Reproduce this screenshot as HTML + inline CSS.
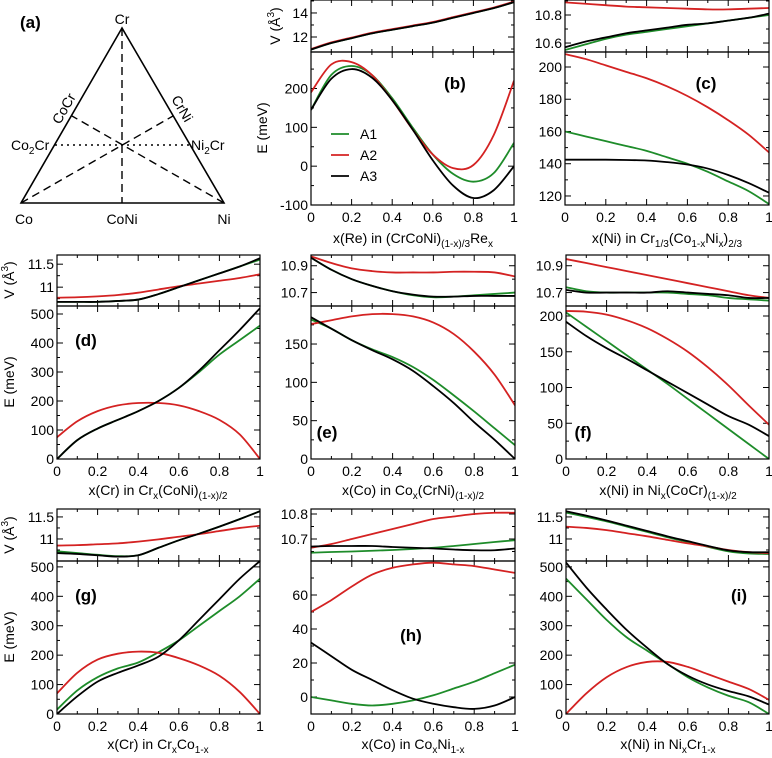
<!DOCTYPE html>
<html><head><meta charset="utf-8"><style>
html,body{margin:0;padding:0;background:#fff;}
svg{display:block;font-family:"Liberation Sans",Arial,sans-serif;}
</style></head><body>
<svg id="fig" width="772" height="758" viewBox="0 0 772 758">
<g fill="none" stroke="#000">
<polygon points="122,28 21,203 224,203" stroke-width="1.6"/>
<line x1="122" y1="28" x2="122" y2="203" stroke-dasharray="8,5" stroke-width="1.4"/>
<line x1="21" y1="203" x2="173" y2="116" stroke-dasharray="8,5" stroke-width="1.4"/>
<line x1="224" y1="203" x2="72" y2="116" stroke-dasharray="8,5" stroke-width="1.4"/>
<line x1="55" y1="145" x2="190" y2="145" stroke-dasharray="2,4" stroke-width="1.4"/>
</g>
<g font-size="14" fill="#000">
<text x="20" y="28" font-weight="bold" font-size="17">(a)</text>
<text x="122" y="24" text-anchor="middle">Cr</text>
<text x="24" y="224" text-anchor="middle">Co</text>
<text x="122" y="224" text-anchor="middle">CoNi</text>
<text x="224" y="224" text-anchor="middle">Ni</text>
<text x="11" y="150">Co<tspan font-size="10" dy="4">2</tspan><tspan dy="-4">Cr</tspan></text>
<text x="191" y="150">Ni<tspan font-size="10" dy="4">2</tspan><tspan dy="-4">Cr</tspan></text>
<text transform="translate(68,111) rotate(-60)" text-anchor="middle">CoCr</text>
<text transform="translate(178,111) rotate(60)" text-anchor="middle">CrNi</text>
</g>
</svg>
<script>
const xs=[0,0.1,0.2,0.3,0.4,0.5,0.6,0.7,0.8,0.9,1];
const seriesNames=["A1","A2","A3"];
// (b)
const bV1=[10.95,11.5,11.9,12.3,12.6,12.9,13.2,13.6,14.0,14.4,14.9];
const bV2=[11.0,11.55,11.95,12.35,12.65,12.95,13.25,13.65,14.05,14.45,14.95];
const bV3=[10.95,11.5,11.9,12.3,12.6,12.9,13.2,13.6,14.0,14.4,14.9];
const bE1=[145,235,258,235,175,100,30,-20,-40,-18,60];
const bE2=[190,262,268,235,170,95,30,-5,3,80,220];
const bE3=[145,225,250,228,170,95,15,-50,-82,-62,0];
// (c)
const cV1=[10.55,10.59,10.63,10.66,10.68,10.70,10.72,10.74,10.76,10.78,10.80];
const cV2=[10.89,10.88,10.87,10.86,10.855,10.85,10.845,10.84,10.84,10.845,10.85];
const cV3=[10.57,10.61,10.64,10.67,10.69,10.71,10.73,10.74,10.76,10.78,10.81];
const cE1=[160,157,154,151,148,144,140,135,129,123,115];
const cE2=[208,205,201,197,193,188,182,175,167,158,147];
const cE3=[142.5,142.5,142.5,142.3,142,141,139.5,137,133,128,122];
// (d)
const dV1=[10.68,10.68,10.68,10.70,10.73,10.85,11.0,11.15,11.30,11.45,11.60];
const dV2=[10.77,10.78,10.80,10.83,10.88,10.95,11.02,11.08,11.14,11.20,11.28];
const dV3=[10.68,10.68,10.68,10.70,10.73,10.85,11.0,11.15,11.30,11.45,11.63];
const dE1=[0,65,105,135,165,200,245,300,360,410,460];
const dE2=[75,130,165,185,193,193,185,165,135,85,0];
const dE3=[0,65,105,135,165,200,245,305,375,445,520];
// (e)
const eV1=[10.96,10.87,10.80,10.75,10.71,10.68,10.665,10.67,10.68,10.69,10.70];
const eV2=[10.97,10.92,10.88,10.86,10.85,10.85,10.85,10.855,10.855,10.85,10.82];
const eV3=[10.96,10.87,10.80,10.75,10.71,10.685,10.67,10.67,10.675,10.675,10.675];
const eE1=[182,170,155,143,133,120,103,83,62,40,18];
const eE2=[176,181,186,189,189,186,178,163,140,110,70];
const eE3=[185,170,155,142,130,115,95,73,48,25,0];
// (f)
const fV1=[10.74,10.71,10.70,10.70,10.70,10.70,10.69,10.68,10.66,10.65,10.64];
const fV2=[10.95,10.92,10.89,10.86,10.83,10.80,10.77,10.74,10.71,10.68,10.66];
const fV3=[10.72,10.70,10.70,10.70,10.70,10.71,10.70,10.69,10.68,10.66,10.66];
const fE1=[205,185,165,145,125,105,84,63,42,21,0];
const fE2=[207,206,202,194,183,168,150,128,103,75,48];
const fE3=[192,172,155,140,124,108,92,76,60,48,32];
// (g)
const gV1=[10.72,10.68,10.64,10.61,10.63,10.8,10.97,11.12,11.28,11.45,11.63];
const gV2=[10.85,10.86,10.88,10.90,10.94,10.99,11.05,11.11,11.18,11.25,11.30];
const gV3=[10.68,10.66,10.63,10.60,10.63,10.8,10.97,11.12,11.28,11.45,11.63];
const gE1=[15,80,125,155,175,210,250,300,350,400,460];
const gE2=[70,140,185,205,212,208,190,165,130,75,0];
const gE3=[0,60,110,140,165,195,250,320,390,460,520];
// (h)
const hV1=[10.645,10.648,10.650,10.653,10.656,10.660,10.665,10.672,10.680,10.688,10.695];
const hV2=[10.665,10.68,10.70,10.72,10.74,10.76,10.78,10.79,10.80,10.805,10.805];
const hV3=[10.67,10.672,10.672,10.672,10.668,10.665,10.662,10.658,10.655,10.655,10.662];
const hE1=[0,-2,-4,-5,-4,-2,1,5,9,14,19];
const hE2=[50,57,65,72,76,78,79,78,77,75,73];
const hE3=[32,24,16,10,4,-1,-4,-6,-7,-5,0];
// (i)
const iV1=[11.60,11.50,11.40,11.28,11.16,11.04,10.93,10.82,10.72,10.67,10.66];
const iV2=[11.28,11.25,11.20,11.13,11.06,10.98,10.90,10.83,10.75,10.70,10.68];
const iV3=[11.63,11.53,11.42,11.30,11.18,11.06,10.95,10.84,10.74,10.70,10.70];
const iE1=[460,390,320,260,215,170,125,90,62,40,0];
const iE2=[0,70,125,160,177,177,160,135,110,85,48];
const iE3=[515,430,355,285,225,170,130,100,78,60,32];
// tick labels
const xTickVals=[0,0.2,0.4,0.6,0.8,1];
const xTickLabels=["0","0.2","0.4","0.6","0.8","1"];

const colors=["#1e8c2a","#d42222","#000000"];
const svg=document.getElementById('fig');
const NS="http://www.w3.org/2000/svg";
function mk(tag,attrs,parent){const e=document.createElementNS(NS,tag);for(const k in attrs)e.setAttribute(k,attrs[k]);(parent||svg).appendChild(e);return e;}
function smooth(pts){let d="M"+pts[0][0].toFixed(2)+","+pts[0][1].toFixed(2);
 for(let i=0;i<pts.length-1;i++){const p0=pts[Math.max(0,i-1)],p1=pts[i],p2=pts[i+1],p3=pts[Math.min(pts.length-1,i+2)];
 const c1=[p1[0]+(p2[0]-p0[0])/6,p1[1]+(p2[1]-p0[1])/6],c2=[p2[0]-(p3[0]-p1[0])/6,p2[1]-(p3[1]-p1[1])/6];
 d+=" C"+c1[0].toFixed(2)+","+c1[1].toFixed(2)+" "+c2[0].toFixed(2)+","+c2[1].toFixed(2)+" "+p2[0].toFixed(2)+","+p2[1].toFixed(2);}return d;}
let clipId=0;
function box(p,key,top,bot,rng,ticks,labels,minor,series){
 const g=mk('g',{});
 
 
 const xS=v=>p.x0+(v)*(p.x1-p.x0);
 const yS=v=>bot-(v-rng[0])/(rng[1]-rng[0])*(bot-top);
 const cid='clip'+(clipId++);
 const cp=mk('clipPath',{id:cid},g);mk('rect',{x:p.x0,y:top,width:p.x1-p.x0,height:bot-top},cp);
 for(let k=0;k<=10;k++){const v=k/10;const x=xS(v);const len=(k%2==0)?6:3;
  mk('line',{x1:x,y1:bot,x2:x,y2:bot-len,stroke:'#000','stroke-width':1},g);
  mk('line',{x1:x,y1:top,x2:x,y2:top+len,stroke:'#000','stroke-width':1},g);}
 const start=Math.ceil(rng[0]/minor-1e-9)*minor;
 for(let v=start;v<=rng[1]+1e-9;v+=minor){const y=yS(v);const maj=ticks.some(t=>Math.abs(t-v)<minor/10);const len=maj?6:3;
  mk('line',{x1:p.x0,y1:y,x2:p.x0+len,y2:y,stroke:'#000','stroke-width':1},g);
  mk('line',{x1:p.x1,y1:y,x2:p.x1-len,y2:y,stroke:'#000','stroke-width':1},g);}
 ticks.forEach((t,i)=>{const tx=mk('text',{x:p.x0-3,y:yS(t)+5,'text-anchor':'end','font-size':14},g);tx.textContent=labels[i];
  
  });
 series.forEach((arr,si)=>{const pts=xs.map((x,i)=>[xS(x),yS(arr[i])]);
  const path=mk('path',{d:smooth(pts),fill:'none',stroke:colors[si],'stroke-width':1.8,'clip-path':'url(#'+cid+')'},g);
  
  });
 mk('rect',{x:p.x0,y:top,width:p.x1-p.x0,height:bot-top,fill:'none',stroke:'#000','stroke-width':1.2},g);
}
const panels=[
 {id:'b',x0:311,x1:514,vt:0,mid:52,eb:205,V:[10.75,15.08],Vt:[12,14],Vl:["12","14"],Vm:1,E:[-100,294],Et:[-100,0,100,200],El:["-100","0","100","200"],Em:50,vs:[bV1,bV2,bV3],es:[bE1,bE2,bE3]},
 {id:'c',x0:565,x1:769,vt:0,mid:52,eb:205,V:[10.536,10.907],Vt:[10.6,10.8],Vl:["10.6","10.8"],Vm:0.1,E:[114.4,209.3],Et:[120,140,160,180,200],El:["120","140","160","180","200"],Em:10,vs:[cV1,cV2,cV3],es:[cE1,cE2,cE3]},
 {id:'d',x0:57,x1:260,vt:255,mid:306,eb:459,V:[10.59,11.7],Vt:[11,11.5],Vl:["11","11.5"],Vm:0.25,E:[0,527.6],Et:[0,100,200,300,400,500],El:["0","100","200","300","400","500"],Em:50,vs:[dV1,dV2,dV3],es:[dE1,dE2,dE3]},
 {id:'e',x0:311,x1:515,vt:255,mid:306,eb:459,V:[10.60,10.98],Vt:[10.7,10.9],Vl:["10.7","10.9"],Vm:0.1,E:[0,199.6],Et:[0,50,100,150],El:["0","50","100","150"],Em:25,vs:[eV1,eV2,eV3],es:[eE1,eE2,eE3]},
 {id:'f',x0:566,x1:769,vt:255,mid:306,eb:459,V:[10.60,10.98],Vt:[10.7,10.9],Vl:["10.7","10.9"],Vm:0.1,E:[0,214],Et:[0,50,100,150,200],El:["0","50","100","150","200"],Em:25,vs:[fV1,fV2,fV3],es:[fE1,fE2,fE3]},
 {id:'g',x0:57,x1:260,vt:509,mid:561,eb:714,V:[10.5,11.68],Vt:[11,11.5],Vl:["11","11.5"],Vm:0.25,E:[0,520],Et:[0,100,200,300,400,500],El:["0","100","200","300","400","500"],Em:50,vs:[gV1,gV2,gV3],es:[gE1,gE2,gE3]},
 {id:'h',x0:311,x1:515,vt:509,mid:561,eb:714,V:[10.612,10.82],Vt:[10.7,10.8],Vl:["10.7","10.8"],Vm:0.05,E:[-10,80],Et:[0,20,40,60],El:["0","20","40","60"],Em:10,vs:[hV1,hV2,hV3],es:[hE1,hE2,hE3]},
 {id:'i',x0:566,x1:769,vt:509,mid:561,eb:714,V:[10.5,11.68],Vt:[11,11.5],Vl:["11","11.5"],Vm:0.25,E:[0,520],Et:[0,100,200,300,400,500],El:["0","100","200","300","400","500"],Em:50,vs:[iV1,iV2,iV3],es:[iE1,iE2,iE3]}
];
panels.forEach(p=>{
 box(p,'volume',p.vt,p.mid,p.V,p.Vt,p.Vl,p.Vm,p.vs);
 box(p,'energy',p.mid,p.eb,p.E,p.Et,p.El,p.Em,p.es);
 xTickVals.forEach((v,i)=>{const t=mk('text',{x:p.x0+v*(p.x1-p.x0),y:p.eb+17,'text-anchor':'middle','font-size':14});t.textContent=xTickLabels[i];
  
  });
});
const xl=[
 ['b',413,243,'x(Re) in (CrCoNi)<tspan font-size="10" dy="4">(1-x)/3</tspan><tspan dy="-4">Re</tspan><tspan font-size="10" dy="4">x</tspan>'],
 ['c',667,243,'x(Ni) in Cr<tspan font-size="10" dy="4">1/3</tspan><tspan dy="-4">(Co</tspan><tspan font-size="10" dy="4">1-x</tspan><tspan dy="-4">Ni</tspan><tspan font-size="10" dy="4">x</tspan><tspan dy="-4">)</tspan><tspan font-size="10" dy="4">2/3</tspan>'],
 ['d',158,495,'x(Cr) in Cr<tspan font-size="10" dy="4">x</tspan><tspan dy="-4">(CoNi)</tspan><tspan font-size="10" dy="4">(1-x)/2</tspan>'],
 ['e',413,495,'x(Co) in Co<tspan font-size="10" dy="4">x</tspan><tspan dy="-4">(CrNi)</tspan><tspan font-size="10" dy="4">(1-x)/2</tspan>'],
 ['f',668,495,'x(Ni) in Ni<tspan font-size="10" dy="4">x</tspan><tspan dy="-4">(CoCr)</tspan><tspan font-size="10" dy="4">(1-x)/2</tspan>'],
 ['g',158,749,'x(Cr) in Cr<tspan font-size="10" dy="4">x</tspan><tspan dy="-4">Co</tspan><tspan font-size="10" dy="4">1-x</tspan>'],
 ['h',413,749,'x(Co) in Co<tspan font-size="10" dy="4">x</tspan><tspan dy="-4">Ni</tspan><tspan font-size="10" dy="4">1-x</tspan>'],
 ['i',668,749,'x(Ni) in Ni<tspan font-size="10" dy="4">x</tspan><tspan dy="-4">Cr</tspan><tspan font-size="10" dy="4">1-x</tspan>']];
xl.forEach(a=>{const t=mk('text',{x:a[1],y:a[2],'text-anchor':'middle','font-size':14});t.innerHTML=a[3];
 
 });
const yl=[['b-v',280,26,'V (Å<tspan font-size="10" dy="-6">3</tspan><tspan dy="6">)</tspan>'],['b-e',267,128,'E (meV)'],
 ['d-v',14,280,'V (Å<tspan font-size="10" dy="-6">3</tspan><tspan dy="6">)</tspan>'],['d-e',14,382,'E (meV)'],
 ['g-v',14,535,'V (Å<tspan font-size="10" dy="-6">3</tspan><tspan dy="6">)</tspan>'],['g-e',14,637,'E (meV)']];
yl.forEach(a=>{const t=mk('text',{transform:'translate('+a[1]+','+a[2]+') rotate(-90)','text-anchor':'middle','font-size':14});t.innerHTML=a[3];
 
 });
const pl=[['b',455,89],['c',706,89],['d',86,346],['e',327,438],['f',583,438],['g',86,601],['h',411,641],['i',739,601]];
pl.forEach(a=>{const t=mk('text',{x:a[1],y:a[2],'text-anchor':'middle','font-size':17,'font-weight':'bold'});t.textContent='('+a[0]+')';
 
 });
seriesNames.forEach((n,i)=>{const y=134+i*21;
 const l=mk('line',{x1:331,y1:y,x2:349,y2:y,stroke:colors[i],'stroke-width':1.8});
 
 
 const t=mk('text',{x:360,y:y+5,'font-size':14});t.textContent=n;
 
 });
</script>
</body></html>
